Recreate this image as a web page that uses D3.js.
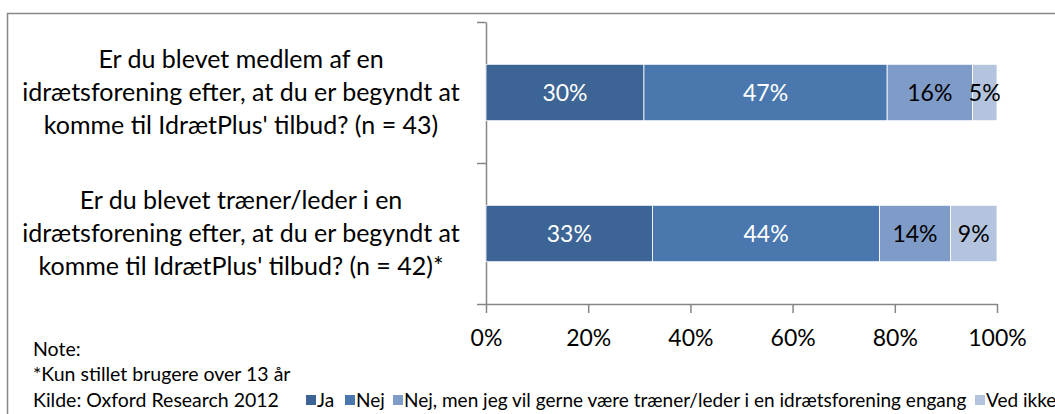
<!DOCTYPE html>
<html>
<head>
<meta charset="utf-8">
<script src="https://cdn.jsdelivr.net/npm/d3@7"></script>
<style>
  body { margin: 0; background: #fff; }
  svg text { font-family: Lato, "Open Sans", sans-serif; }
</style>
</head>
<body>
<div id="wrapper"></div>
<script>
// questions (one bar each), answer categories and shares in percent
const questions = [
    ["Er du blevet medlem af en", "idrætsforening efter, at du er begyndt at", "komme til IdrætPlus' tilbud? (n = 43)"],
    ["Er du blevet træner/leder i en", "idrætsforening efter, at du er begyndt at", "komme til IdrætPlus' tilbud? (n = 42)*"]
];
const answers = ["Ja", "Nej", "Nej, men jeg vil gerne være træner/leder i en idrætsforening engang", "Ved ikke"];
const jaValues = [30.2, 32.6];
const nejValues = [46.5, 44.4];
const nejMenValues = [16.3, 13.9];
const vedIkkeValues = [4.7, 9.1];
const xTicks = [0, 0.2, 0.4, 0.6, 0.8, 1];
const noteLines = ["Note:", "*Kun stillet brugere over 13 år", "Kilde: Oxford Research 2012"];
const colors = ["#3c6494", "#4a78ae", "#7f9bc8", "#b4c3de"];
const labelColors = ["#fff", "#fff", "#000", "#000"];

function buildPlot() {
    const width = 1055, height = 414;
    const series = [jaValues, nejValues, nejMenValues, vedIkkeValues];
    const rows = questions.map((q, i) => {
        const r = { id: i };
        answers.forEach((a, j) => r[a] = series[j][i]);
        return r;
    });

    const stacked = d3.stack()
        .keys(answers)
        .offset(d3.stackOffsetExpand)(rows);

    const svg = d3.select("#wrapper").append("svg")
        .attr("width", width)
        .attr("height", height);

    // chart frame (cut off at the right and bottom)
    svg.append("path")
        .attr("d", "M7.5,420 V13.5 H1060")
        .attr("fill", "none")
        .attr("stroke", "#888")
        .attr("stroke-width", 1.5);

    const x = d3.scaleLinear().domain([0, 1]).range([486, 997]);
    const y = d3.scaleBand().domain(rows.map(d => d.id)).range([22, 304])
        .paddingInner(0.6).paddingOuter(0.3);

    // y axis line with ticks between categories
    const yEdges = d3.scaleLinear().domain([0, questions.length]).range([22, 304]);
    const yAxis = svg.append("g")
        .attr("transform", "translate(486,0)")
        .call(d3.axisLeft(yEdges).tickValues(d3.range(questions.length + 1)).tickFormat("").tickSizeInner(9).tickSizeOuter(0));
    yAxis.selectAll("path, line").attr("stroke", "#868686").attr("stroke-width", 1.5);

    const xAxis = svg.append("g")
        .attr("transform", "translate(0,304)")
        .call(d3.axisBottom(x).tickValues(xTicks).tickFormat(d3.format(".0%")).tickSizeInner(9).tickSizeOuter(0).tickPadding(17));
    xAxis.selectAll("path, line").attr("stroke", "#868686").attr("stroke-width", 1.5);
    xAxis.selectAll("text").attr("font-size", 23).attr("fill", "#000")
        .attr("font-family", "Lato, sans-serif");

    const groups = svg.append("g").selectAll("g")
        .data(stacked)
        .join("g")
        .attr("fill", (d, i) => colors[i]);

    groups.selectAll("rect")
        .data(d => d)
        .join("rect")
        .attr("x", d => x(d[0]))
        .attr("y", d => y(d.data.id))
        .attr("width", d => x(d[1]) - x(d[0]))
        .attr("height", y.bandwidth())
        .attr("stroke", "#fff")
        .attr("stroke-width", 0.8);

    groups.each(function(s, i) {
        d3.select(this).selectAll("text")
            .data(s)
            .join("text")
            .attr("x", d => (x(d[0]) + x(d[1])) / 2)
            .attr("y", d => y(d.data.id) + y.bandwidth() / 2)
            .attr("dy", "0.35em")
            .attr("text-anchor", "middle")
            .attr("font-size", 23)
            .attr("fill", labelColors[i])
            .text(d => Math.round(d.data[s.key]) + "%");
    });

    // category labels
    const cat = svg.append("g").selectAll("text")
        .data(questions)
        .join("text")
        .attr("text-anchor", "middle")
        .attr("font-size", 25)
        .attr("fill", "#000")
        .attr("transform", (d, i) => `translate(241,${y(i) + y.bandwidth() / 2})`);
    cat.selectAll("tspan")
        .data(d => d)
        .join("tspan")
        .attr("x", 0)
        .attr("y", (d, i) => (i - 1) * 33)
        .attr("dy", "0.35em")
        .text(d => d);

    // notes
    svg.append("g").selectAll("text")
        .data(noteLines)
        .join("text")
        .attr("x", 33)
        .attr("y", (d, i) => 349 + i * 25.5)
        .attr("dy", "0.35em")
        .attr("font-size", 19.5)
        .attr("fill", "#000")
        .text(d => d);

    // legend
    const legendX = [306, 345, 393, 975];
    const legend = svg.append("g").selectAll("g")
        .data(answers)
        .join("g")
        .attr("transform", (d, i) => `translate(${legendX[i]},400)`);
    legend.append("rect")
        .attr("x", 0).attr("y", -5)
        .attr("width", 10).attr("height", 10)
        .attr("fill", (d, i) => colors[i]);
    legend.append("text")
        .attr("x", 11)
        .attr("dy", "0.35em")
        .attr("font-size", 19)
        .attr("fill", "#000")
        .text(d => d);
}

buildPlot();
</script>
</body>
</html>
